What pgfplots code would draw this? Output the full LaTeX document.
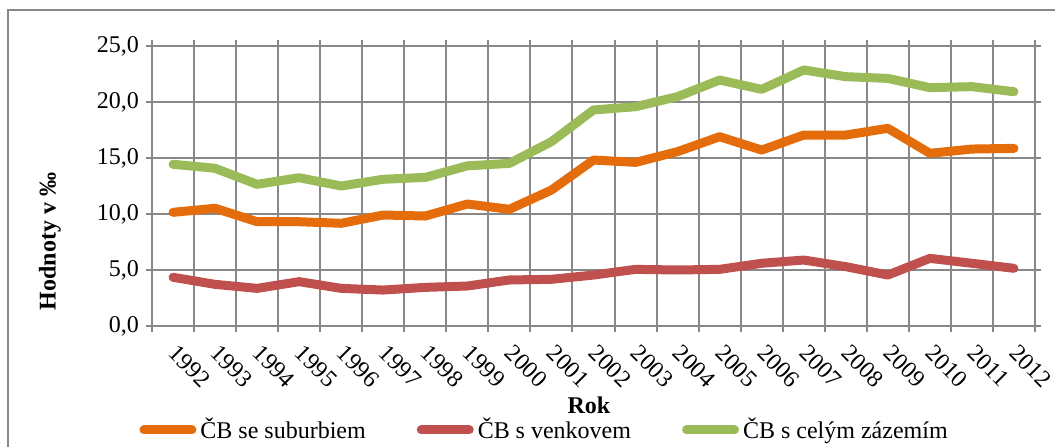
\documentclass[border=0pt]{standalone}
\usepackage{fontspec}
\setmainfont{Liberation Serif}
\usepackage{pgfplots}
\usepackage{pgfplotstable}
\pgfplotsset{compat=1.18}

\definecolor{cbsub}{HTML}{E46C0A}
\definecolor{cbven}{HTML}{C0504D}
\definecolor{cbcel}{HTML}{9BBB59}
\definecolor{gridgray}{HTML}{888888}

% rok, CB se suburbiem, CB s venkovem, CB s celym zazemim
\pgfplotstableread{
rok  sub    ven   cel
1992 10.15  4.35  14.44
1993 10.51  3.72  14.08
1994  9.31  3.36  12.65
1995  9.31  3.96  13.24
1996  9.17  3.36  12.50
1997  9.91  3.21  13.10
1998  9.82  3.45  13.27
1999 10.89  3.57  14.30
2000 10.42  4.11  14.52
2001 12.14  4.17  16.46
2002 14.82  4.55  19.29
2003 14.61  5.06  19.58
2004 15.57  5.00  20.48
2005 16.90  5.06  21.96
2006 15.71  5.60  21.13
2007 17.05  5.89  22.86
2008 17.05  5.30  22.26
2009 17.65  4.55  22.11
2010 15.42  6.04  21.28
2011 15.80  5.60  21.37
2012 15.86  5.15  20.92
}\data

\begin{document}
\begin{tikzpicture}[font=\fontsize{12}{14}\selectfont]
\useasboundingbox (0pt,0pt) rectangle (527.5pt,223pt);
\draw[gridgray, line width=1pt] (4pt,-10pt) rectangle (540pt,218pt);
\begin{axis}[
    at={(76pt,60pt)}, anchor=south west,
    scale only axis,
    width=441.5pt, height=140pt,
    xmin=-0.5, xmax=20.5,
    ymin=0, ymax=25,
    xtick={0,1,2,3,4,5,6,7,8,9,10,11,12,13,14,15,16,17,18,19,20},
    xticklabels={1992,1993,1994,1995,1996,1997,1998,1999,2000,2001,2002,2003,2004,2005,2006,2007,2008,2009,2010,2011,2012},
    xticklabel style={rotate=-45, anchor=north west, inner sep=0pt, xshift=8pt, yshift=-4pt},
    minor xtick={-0.5,0.5,1.5,2.5,3.5,4.5,5.5,6.5,7.5,8.5,9.5,10.5,11.5,12.5,13.5,14.5,15.5,16.5,17.5,18.5,19.5,20.5},
    ytick={0,5,10,15,20,25},
    minor ytick={0,5,10,15,20,25},
    xminorgrids, ymajorgrids,
    grid style={gridgray, line width=1pt},
    minor grid style={gridgray, line width=1pt},
    axis line style={gridgray, line width=1pt},
    tick style={gridgray, line width=1pt},
    tick align=outside,
    major tick length=0pt,
    minor tick length=3pt,
    tick label style={font=\fontsize{12}{14}\selectfont},
    yticklabel style={xshift=-3pt, /pgf/number format/.cd, fixed, fixed zerofill, precision=1, use comma, assume math mode=true},
    legend columns=3,
    legend style={draw=none, fill=none, at={(axis description cs:-0.0147,-0.3714)}, anchor=west,
        font=\fontsize{12}{14}\selectfont, inner sep=0pt, nodes={inner sep=0pt},
        column sep=2pt,
        /tikz/every even column/.append style={column sep=25.5pt}},
    legend image code/.code={\draw[#1, line cap=round] (2.25pt,0pt) -- (26.25pt,0pt);},
    every axis plot/.append style={line width=4.5pt, line join=round, line cap=round, mark=none},
]
% svisle mrizky na hranicich kategorii
\addplot[gridgray, line width=1pt, line cap=butt, ycomb, forget plot] coordinates {
(-0.5,25) (0.5,25) (1.5,25) (2.5,25) (3.5,25) (4.5,25) (5.5,25) (6.5,25) (7.5,25) (8.5,25) (9.5,25)
(10.5,25) (11.5,25) (12.5,25) (13.5,25) (14.5,25) (15.5,25) (16.5,25) (17.5,25) (18.5,25) (19.5,25) (20.5,25)
};
\addplot[cbsub] table[x expr=\coordindex, y=sub] {\data};
\addlegendentry{ČB se suburbiem}
\addplot[cbven] table[x expr=\coordindex, y=ven] {\data};
\addlegendentry{ČB s venkovem}
\addplot[cbcel] table[x expr=\coordindex, y=cel] {\data};
\addlegendentry{ČB s celým zázemím}
\end{axis}
\node[rotate=90, font=\fontsize{12}{14}\selectfont\bfseries] at (25pt,102.25pt) {Hodnoty v ‰};
\node[font=\fontsize{12}{14}\selectfont\bfseries] at (294.5pt,20.5pt) {Rok};
\end{tikzpicture}
\end{document}
